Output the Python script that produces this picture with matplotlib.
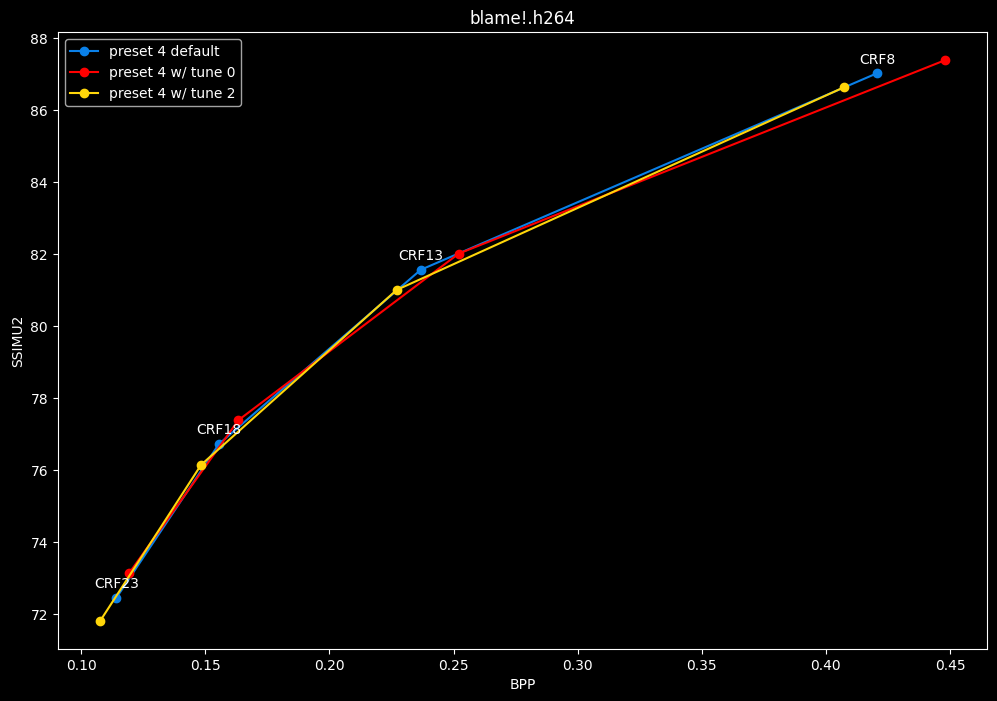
import matplotlib
matplotlib.use('Agg')
import matplotlib.pyplot as plt

# BPP / SSIMU2 per CRF (23, 18, 13, 8)
crf_labels = ['CRF23', 'CRF18', 'CRF13', 'CRF8']

bpp_default = [0.1141, 0.1555, 0.2368, 0.4206]
ssim_default = [72.45, 76.73, 81.57, 87.03]

bpp_tune0 = [0.1193, 0.1633, 0.2521, 0.4479]
ssim_tune0 = [73.14, 77.39, 82.02, 87.39]

bpp_tune2 = [0.1076, 0.1483, 0.2271, 0.4073]
ssim_tune2 = [71.81, 76.15, 81.01, 86.64]

plt.style.use('dark_background')
fig, ax = plt.subplots(figsize=(9.97, 7.01), dpi=100)
fig.subplots_adjust(left=0.058, right=0.99, top=0.954, bottom=0.074)

ax.plot(bpp_default, ssim_default, marker='o', color='#0a80e8', label='preset 4 default')
ax.plot(bpp_tune0, ssim_tune0, marker='o', color='#ff0000', label='preset 4 w/ tune 0')
ax.plot(bpp_tune2, ssim_tune2, marker='o', color='#ffd60a', label='preset 4 w/ tune 2')

for lab, x, y in zip(crf_labels, bpp_default, ssim_default):
    ax.annotate(lab, (x, y), textcoords='offset points', xytext=(0, 7), ha='center')

ax.set_title('blame!.h264')
ax.set_xlabel('BPP')
ax.set_ylabel('SSIMU2')
ax.legend(loc='upper left')

fig.savefig('out.png')
